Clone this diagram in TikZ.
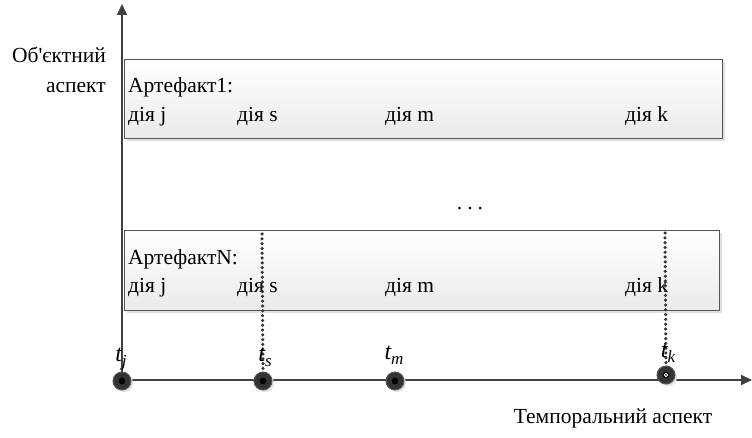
\documentclass[tikz,border=0pt]{standalone}
\usepackage{fontspec}
\setmainfont{Liberation Serif}[Ligatures=TeXOff]
\usetikzlibrary{arrows.meta}
\definecolor{axisgray}{HTML}{404040}
\definecolor{boxedge}{HTML}{555555}
\tikzset{
  txt/.style={font=\fontsize{21.5}{24}\selectfont, inner sep=0pt, anchor=base west},
  lbl/.style={font=\fontsize{21.5}{24}\selectfont, inner sep=0pt},
  tlbl/.style={font=\fontsize{24}{26}\selectfont\itshape, inner sep=0pt, anchor=base},
  artbox/.style={draw=boxedge, line width=0.9pt, top color=white, bottom color=black!8},
  axis/.style={draw=axisgray, line width=2pt, -{Triangle[length=11pt,width=10pt]}},
  tick/.style={circle, fill=black!80, draw=black!65, line width=1pt, minimum size=18pt, inner sep=0pt},
  dotted line/.style={draw=black!80, line width=3.5pt, dash pattern=on 0pt off 4.8pt, line cap=round}
}
\begin{document}
\begin{tikzpicture}[x=1pt,y=-1pt]
\useasboundingbox (0,0) rectangle (752,438);
% boxes
\fill[black!12] (127,62) rectangle (725,141);
\draw[artbox] (124,59) rectangle (722,138);
\fill[black!12] (127,233) rectangle (722,313);
\draw[artbox] (124,230) rectangle (719,310);
% axes
\coordinate (o) at (122,380);
\coordinate (ytop) at (122,4);
\coordinate (xend) at (752,380);
\draw[axis] (o) -- (ytop);
\draw[axis] (o) -- (xend);
% box texts
\node[txt] (a1) at (128,93) {Артефакт1:};
\node[txt] (a1j) at (128,122) {дія j};
\node[txt] (a1s) at (237,122) {дія s};
\node[txt] (a1m) at (385,122) {дія m};
\node[txt] (a1k) at (625,122) {дія k};
\node[txt] (an) at (128,265) {АртефактN:};
\node[txt] (anj) at (128,292) {дія j};
\node[txt] (ans) at (237,292) {дія s};
\node[txt] (anm) at (385,292) {дія m};
\node[txt] (ank) at (625,292) {дія k};
\node[lbl, anchor=base] (dots) at (470,210) {.\hspace{5pt}.\hspace{5pt}.};
% left labels
\node[lbl, anchor=base east] (ob1) at (106,63) {Об'єктний};
\node[lbl, anchor=base east] (ob2) at (106,93) {аспект};
\node[lbl, anchor=base] (temp) at (613,423) {Темпоральний аспект};
% time points
\fill[black!12] (124,383) circle (9pt);
\fill[black!12] (265,383) circle (9pt);
\fill[black!12] (397,383) circle (9pt);
\fill[black!12] (668,377) circle (9pt);
\node[tick] (tj) at (122,381) {};
\node[tick] (ts) at (263,381) {};
\node[tick] (tm) at (395,381) {};
\node[tick] (tk) at (666,375) {};
\foreach \n in {tj,ts,tm} \fill[black] (\n) circle (3.4pt);
\fill[black] (tk) circle (3.4pt);
\draw[white, line width=0.9pt] (tk) circle (1.8pt);
% dotted lines
\coordinate (ds) at (262,234);
\coordinate (dk) at (665,233);
\draw[dotted line] (ds) -- (ts.north);
\draw[dotted line] (dk) -- (tk.north);
% t labels
\node[tlbl] (ltj) at (121,361) {t\raisebox{-5pt}{\fontsize{17}{18}\selectfont j}};
\node[tlbl] (lts) at (265,361) {t\raisebox{-5pt}{\fontsize{17}{18}\selectfont s}};
\node[tlbl] (ltm) at (394,359) {t\raisebox{-5pt}{\fontsize{17}{18}\selectfont m}};
\node[tlbl] (ltk) at (668,357) {t\raisebox{-5pt}{\fontsize{17}{18}\selectfont k}};
\end{tikzpicture}
\end{document}
